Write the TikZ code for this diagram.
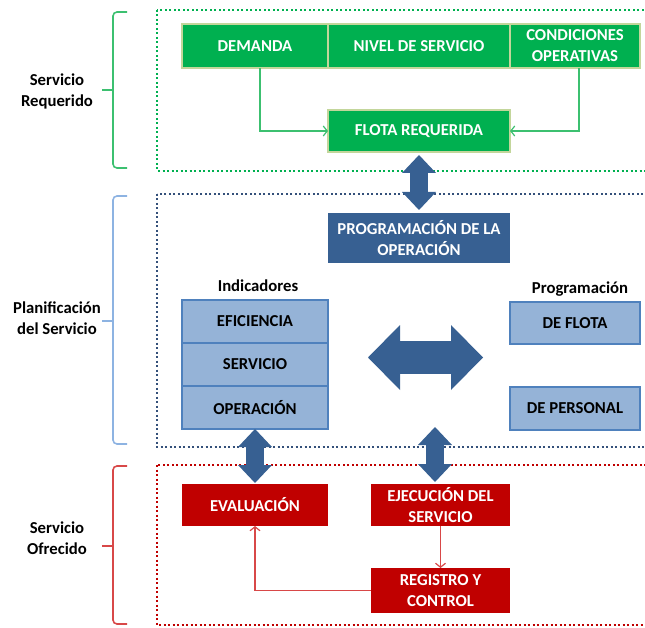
\documentclass[tikz,border=0pt]{standalone}
\usepackage{fontspec}
\setmainfont{Carlito}
\usetikzlibrary{positioning}
\usetikzlibrary{arrows.meta}
\definecolor{reqgreen}{HTML}{00B050}
\definecolor{reqedge}{HTML}{C3D69B}
\definecolor{reqline}{HTML}{3CC070}
\definecolor{plandark}{HTML}{376092}
\definecolor{planlight}{HTML}{95B3D7}
\definecolor{planedge}{HTML}{4F81BD}
\definecolor{plandot}{HTML}{34507A}
\definecolor{planbrace}{HTML}{8DB3E2}
\definecolor{ofrred}{HTML}{C00000}
\definecolor{ofrline}{HTML}{D84848}
\tikzstyle{txt} = [font={\fontsize{16.7}{21}\selectfont\bfseries}, align=center, inner sep=0pt, outer sep=0pt]
\tikzstyle{reqbox} = [txt, fill=reqgreen, draw=reqedge, line width=2pt, text=white, minimum height=44pt]
\tikzstyle{plantop} = [txt, fill=plandark, text=white, minimum width=182pt, minimum height=50pt]
\tikzstyle{plancell} = [txt, fill=planlight, draw=planedge, line width=1.6pt, minimum height=43pt]
\tikzstyle{ofrbox} = [txt, fill=ofrred, text=white, minimum height=42pt]
\tikzstyle{zone} = [line width=2pt, dash pattern=on 2pt off 2.5pt]
\tikzstyle{bracket} = [line width=1.6pt, rounded corners=4pt]
\tikzstyle{thinflow} = [line width=1.2pt, -{Straight Barb[length=4pt,width=10pt]}]
\tikzstyle{bigarrow} = [plandark, line width=18pt, >={Triangle[length=18pt,width=34pt,line width=0pt]}, <->]
\tikzstyle{widearrow} = [plandark, line width=33pt, >={Triangle[length=32pt,width=65pt,line width=0pt]}, <->]

\begin{document}
\begin{tikzpicture}[x=1pt, y=-1pt]
  \useasboundingbox (0,0) rectangle (645,628);
  \clip (0,0) rectangle (645,628);

  % zonas
  \draw[zone, reqgreen] (157,10) rectangle (660,171);
  \draw[zone, plandot] (157,194) rectangle (660,447);
  \draw[zone, ofrred] (157,465) rectangle (660,625);

  \draw[bracket, reqline] (127,12) -- (113,12) -- (113,168) -- (127,168);
  \draw[bracket, reqline] (113,90) -- (102,90);
  \draw[bracket, planbrace] (127,196) -- (113,196) -- (113,444) -- (127,444);
  \draw[bracket, planbrace] (113,321) -- (102,321);
  \draw[bracket, ofrline] (127,466) -- (113,466) -- (113,624) -- (127,624);
  \draw[bracket, ofrline] (113,546) -- (102,546);

  \node[txt] (req_lbl) at (57,91) {Servicio\\Requerido};
  \node[txt] (plan_lbl) at (57,318) {Planificación\\del Servicio};
  \node[txt] (ofr_lbl) at (57,538) {Servicio\\Ofrecido};

  % servicio requerido
  \node[reqbox, minimum width=146pt] (demanda) at (255,46) {DEMANDA};
  \node[reqbox, minimum width=182pt, right=0pt of demanda] (nivel) {NIVEL DE SERVICIO};
  \node[reqbox, minimum width=130pt, right=0pt of nivel] (condic) {CONDICIONES\\OPERATIVAS};
  \node[reqbox, minimum width=182pt, minimum height=42pt] (flota) at (419,131) {FLOTA REQUERIDA};
  \draw[thinflow, reqline] ([xshift=5pt]demanda.south) |- (flota.west);
  \draw[thinflow, reqline] ([xshift=4pt]condic.south) |- (flota.east);

  % planificacion
  \node[plantop] (prog) at (419,238) {PROGRAMACIÓN DE LA\\OPERACIÓN};
  \node[txt] (ind_lbl) at (258,286) {Indicadores};
  \node[plancell, minimum width=146pt] (eficiencia) at (255,321.5) {EFICIENCIA};
  \node[plancell, minimum width=146pt, below=0pt of eficiencia] (servicio) {SERVICIO};
  \node[plancell, minimum width=146pt, below=0pt of servicio] (operacion) {OPERACIÓN};
  \node[txt] (prg_lbl) at (580,289) {Programación};
  \node[plancell, minimum width=130pt, minimum height=42pt] (deflota) at (575,323) {DE FLOTA};
  \node[plancell, minimum width=130pt] (depersonal) at (575,408.5) {DE PERSONAL};

  % servicio ofrecido
  \node[ofrbox, minimum width=146pt] (evaluacion) at (255,505) {EVALUACIÓN};
  \node[ofrbox, minimum width=139pt] (ejecucion) at (440.5,505) {EJECUCIÓN DEL\\SERVICIO};
  \node[ofrbox, minimum width=139pt, minimum height=45pt] (registro) at (440.5,590.5) {REGISTRO Y\\CONTROL};
  \draw[thinflow, ofrline] (ejecucion.south) -- (registro.north);
  \draw[thinflow, ofrline] (registro.west) -| (evaluacion.south);

  % flechas entre zonas
  \coordinate (hl) at (368,357.5);
  \coordinate (hr) at (483,357.5);
  \coordinate (ej_top) at (435,427);
  \draw[bigarrow, shorten <=3pt, shorten >=3pt] (flota.south) -- (prog.north);
  \draw[widearrow] (hl) -- (hr);
  \draw[bigarrow, shorten >=1pt] (operacion.south) -- (evaluacion.north);
  \draw[bigarrow, shorten >=2pt] (ej_top) -- (ej_top |- ejecucion.north);
\end{tikzpicture}
\end{document}
